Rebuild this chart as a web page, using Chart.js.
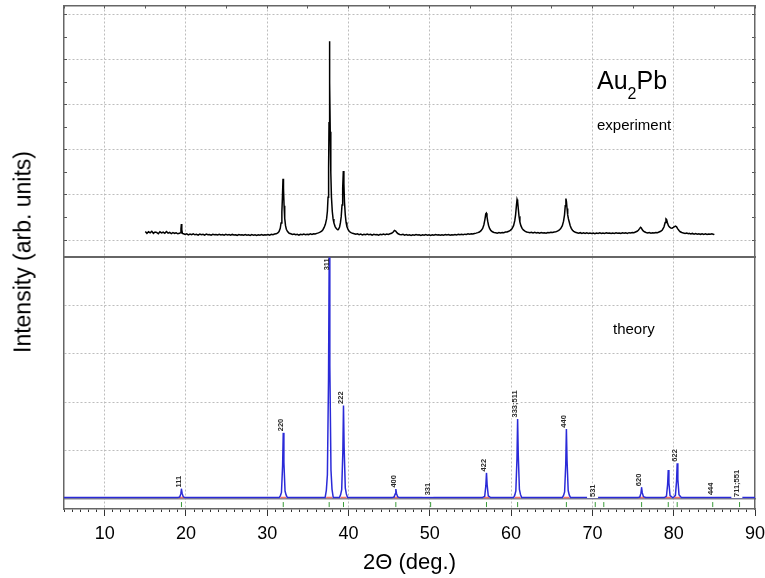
<!DOCTYPE html>
<html>
<head>
<meta charset="utf-8">
<title>Au2Pb powder diffraction</title>
<script src="https://cdn.jsdelivr.net/npm/chart.js@4/dist/chart.umd.min.js"></script>
<style>
  html, body { margin: 0; padding: 0; background: #fff; }
  #wrap { position: relative; width: 765px; height: 578px; overflow: hidden;
          font-family: "Liberation Sans", Arial, sans-serif; color: #000; }
  #plot { position: absolute; left: 0; top: 0; }
  .note { position: absolute; white-space: nowrap; line-height: 1; }
  #ytitle { left: 23px; top: 252px; font-size: 23px; transform: translate(-50%, -50%) rotate(-90deg); }
  #phase { left: 597px; top: 68px; font-size: 25px; }
  #phase span { font-size: 16px; position: relative; top: 10px; }
  #expNote { left: 597px; top: 117px; font-size: 15px; }
  #theoNote { left: 613px; top: 321px; font-size: 15px; }
</style>
</head>
<body>
<div id="wrap">
  <canvas id="plot" width="765" height="578"></canvas>
  <div class="note" id="ytitle">Intensity (arb. units)</div>
  <div class="note" id="phase">Au<span>2</span>Pb</div>
  <div class="note" id="expNote">experiment</div>
  <div class="note" id="theoNote">theory</div>
</div>
<script>
// Measured pattern: [2θ (deg), counts]
const experiment = [
  [15.0,190],[15.2,150],[15.4,185],[15.6,160],[15.8,195],[16.0,150],[16.2,180],[16.4,170],[16.6,140],[16.8,185],
  [17.0,160],[17.2,175],[17.4,150],[17.6,190],[17.8,155],[18.0,170],[18.2,145],[18.4,165],[18.6,150],[18.8,160],
  [19.0,140],[19.2,150],[19.33,165],[19.39,250],[19.44,355],[19.49,235],[19.56,150],[19.7,140],[19.9,125],
  [20.1,140],[20.3,115],[20.5,135],[20.7,120],[20.9,140],[21.1,118],[21.3,130],[21.5,112],[21.7,135],[21.9,120],
  [22.1,128],[22.3,110],[22.5,132],[22.7,118],[22.9,125],[23.1,108],[23.3,130],[23.5,118],[23.7,124],[23.9,112],
  [24.1,128],[24.3,115],[24.5,125],[24.7,110],[24.9,128],[25.1,116],[25.3,122],[25.5,108],[25.7,126],[25.9,114],
  [26.1,120],[26.3,106],[26.5,124],[26.7,112],[26.9,120],[27.1,108],[27.3,125],[27.5,110],[27.7,118],[27.9,104],
  [28.1,122],[28.3,110],[28.5,118],[28.7,105],[28.9,120],[29.1,110],[29.3,124],[29.5,108],[29.7,120],[29.9,112],
  [30.1,125],[30.3,110],[30.5,128],[30.7,118],[30.9,135],[31.1,140],[31.3,160],[31.45,190],[31.6,260],[31.7,380],
  [31.8,620],[31.87,950],[31.94,1360],[32.0,1150],[32.07,760],[32.15,480],[32.25,320],[32.35,240],[32.5,190],
  [32.7,150],[32.9,140],[33.1,125],[33.3,135],[33.5,118],[33.7,130],[33.9,112],[34.1,128],[34.3,118],[34.5,135],
  [34.7,120],[34.9,130],[35.1,122],[35.3,138],[35.5,125],[35.7,140],[35.9,135],[36.1,150],[36.3,160],[36.5,175],
  [36.7,200],[36.85,230],[37.0,280],[37.15,350],[37.3,470],[37.4,640],[37.48,950],[37.55,1600],[37.6,2600],
  [37.65,4410],[37.7,3500],[37.75,2400],[37.82,1500],[37.9,950],[38.0,640],[38.1,470],[38.2,380],[38.35,300],
  [38.5,255],[38.65,230],[38.75,235],[38.9,290],[39.0,380],[39.1,520],[39.2,780],[39.28,1150],[39.36,1530],
  [39.43,1250],[39.5,850],[39.6,560],[39.7,390],[39.8,300],[39.95,230],[40.1,190],[40.3,165],[40.5,150],[40.7,140],
  [40.9,128],[41.1,138],[41.3,120],[41.5,132],[41.7,115],[41.9,130],[42.1,118],[42.3,135],[42.5,120],[42.7,128],
  [42.9,112],[43.1,130],[43.3,118],[43.5,125],[43.7,110],[43.9,128],[44.1,118],[44.3,132],[44.5,120],[44.7,135],
  [44.9,125],[45.1,140],[45.3,150],[45.5,180],[45.65,215],[45.8,200],[45.95,165],[46.1,140],[46.3,125],[46.5,118],
  [46.7,128],[46.9,110],[47.1,122],[47.3,108],[47.5,120],[47.7,105],[47.9,118],[48.1,110],[48.3,125],[48.5,112],
  [48.7,120],[48.9,104],[49.1,118],[49.3,108],[49.5,122],[49.7,110],[49.9,118],[50.1,104],[50.3,120],[50.5,110],
  [50.7,124],[50.9,112],[51.1,118],[51.3,106],[51.5,120],[51.7,110],[51.9,124],[52.1,114],[52.3,122],[52.5,108],
  [52.7,120],[52.9,112],[53.1,125],[53.3,115],[53.5,128],[53.7,118],[53.9,130],[54.1,120],[54.3,132],[54.5,125],
  [54.7,138],[54.9,130],[55.1,140],[55.3,135],[55.5,148],[55.7,155],[55.9,165],[56.1,180],[56.3,210],[56.5,260],
  [56.65,340],[56.78,460],[56.88,580],[56.95,595],[57.03,520],[57.12,420],[57.22,330],[57.35,260],[57.5,215],
  [57.7,185],[57.9,170],[58.1,165],[58.3,155],[58.5,168],[58.7,158],[58.9,170],[59.1,165],[59.3,178],[59.5,180],
  [59.7,195],[59.9,215],[60.1,250],[60.3,320],[60.45,430],[60.55,560],[60.65,760],[60.73,900],[60.8,860],
  [60.88,700],[60.97,530],[61.08,400],[61.2,320],[61.35,260],[61.5,225],[61.7,200],[61.9,180],[62.1,172],[62.3,165],
  [62.5,175],[62.7,160],[62.9,172],[63.1,158],[63.3,168],[63.5,155],[63.7,170],[63.9,160],[64.1,165],[64.3,155],
  [64.5,170],[64.7,162],[64.9,175],[65.1,168],[65.3,180],[65.5,185],[65.7,198],[65.9,220],[66.1,255],[66.3,320],
  [66.45,420],[66.57,560],[66.66,760],[66.74,920],[66.81,850],[66.88,700],[66.96,560],[67.05,470],[67.15,400],
  [67.27,320],[67.4,260],[67.55,220],[67.7,195],[67.9,175],[68.1,165],[68.3,155],[68.5,165],[68.7,150],[68.9,162],
  [69.1,148],[69.3,160],[69.5,145],[69.7,158],[69.9,148],[70.1,155],[70.3,142],[70.5,158],[70.7,148],[70.9,160],
  [71.1,145],[71.3,156],[71.5,148],[71.7,160],[71.9,150],[72.1,158],[72.3,145],[72.5,155],[72.7,148],[72.9,160],
  [73.1,150],[73.3,158],[73.5,145],[73.7,160],[73.9,152],[74.1,162],[74.3,150],[74.5,165],[74.7,158],[74.9,170],
  [75.1,165],[75.3,180],[75.5,195],[75.65,220],[75.8,255],[75.92,285],[76.02,270],[76.12,235],[76.25,205],
  [76.4,185],[76.6,170],[76.8,160],[77.0,168],[77.2,155],[77.4,165],[77.6,158],[77.8,170],[78.0,165],[78.2,180],
  [78.4,195],[78.6,225],[78.8,290],[78.95,390],[79.05,470],[79.12,460],[79.22,390],[79.35,320],[79.5,285],
  [79.65,268],[79.8,265],[79.95,282],[80.1,300],[80.22,312],[80.35,295],[80.5,250],[80.65,212],[80.8,185],
  [81.0,170],[81.2,158],[81.4,148],[81.6,155],[81.8,140],[81.9,150],[82.1,135],[82.3,148],[82.5,132],[82.7,145],
  [82.9,130],[83.1,142],[83.3,128],[83.5,140],[83.7,126],[83.9,138],[84.1,124],[84.3,136],[84.5,128],[84.7,138],
  [84.9,126],[85.0,132]
];

// Calculated pattern (relative intensity, strongest line = 100)
const theoryProfile = [
  [5,0.6],
  [18.95,0.6],[19.1,0.7],[19.23,0.8],[19.37,2.1],[19.45,4.1],[19.53,2.3],[19.67,0.9],[19.8,0.7],[19.95,0.6],
  [31.47,0.6],[31.62,1.4],[31.75,2.7],[31.89,13.7],[31.97,27.4],[32.05,15.1],[32.19,3.3],[32.32,1.7],[32.47,0.6],
  [37.12,0.6],[37.27,3.6],[37.4,10],[37.54,50],[37.62,100],[37.7,55],[37.84,12],[37.97,4],[38.12,0.6],
  [38.88,0.6],[39.03,1.8],[39.16,3.9],[39.3,19.4],[39.38,38.7],[39.46,21.3],[39.6,4.6],[39.73,2.1],[39.88,0.6],
  [45.32,0.6],[45.47,0.7],[45.6,0.8],[45.74,2.1],[45.82,4.1],[45.9,2.3],[46.04,0.9],[46.17,0.7],[46.32,0.6],
  [56.47,0.6],[56.62,0.9],[56.75,1.1],[56.89,5.4],[56.97,10.8],[57.05,5.9],[57.19,1.3],[57.32,1.0],[57.47,0.6],
  [60.3,0.6],[60.45,1.6],[60.58,3.3],[60.72,16.6],[60.8,33.1],[60.88,18.2],[61.02,4.0],[61.15,1.9],[61.3,0.6],
  [66.3,0.6],[66.45,1.5],[66.58,2.9],[66.72,14.5],[66.8,28.9],[66.88,15.9],[67.02,3.5],[67.15,1.7],[67.3,0.6],
  [75.55,0.6],[75.7,0.7],[75.83,0.8],[75.97,2.4],[76.05,4.7],[76.13,2.6],[76.27,1.0],[76.4,0.8],[76.55,0.6],
  [78.83,0.6],[78.98,0.9],[79.11,1.2],[79.25,6.0],[79.33,12.0],[79.41,6.6],[79.55,1.4],[79.68,1.1],[79.83,0.6],
  [79.93,0.6],[80.08,1.0],[80.21,1.5],[80.35,7.4],[80.43,14.8],[80.51,8.1],[80.65,1.8],[80.78,1.2],[80.93,0.6],
  [90,0.6]
];

// Reflection list of the cubic Laves phase
const reflAngle     = [19.45, 31.97, 37.62, 39.38, 45.82, 50.1, 56.97, 60.8, 66.8, 70.35, 71.4, 76.05, 79.33, 80.43, 84.8, 88.1];
const reflHkl       = ['111','220','311','222','400','331','422','333;511','440','531','','620','','622','444','711;551'];
const reflIntensity = [4.1, 27.4, 100, 38.7, 4.1, 0.9, 10.8, 33.1, 28.9, 0.2, 0.2, 4.7, 12.0, 14.8, 1.0, 0.2];

// Axis ticks
const angleLabels = [10, 20, 30, 40, 50, 60, 70, 80, 90];
const expTicks    = [0, 500, 1000, 1500, 2000, 2500, 3000, 3500, 4000, 4500, 5000];
const theoryTicks = [0, 20, 40, 60, 80];

const FRAME = '#666666';
const GRID = '#bdbdbd';
const CLEAR = 'rgba(0,0,0,0)';
const BASE = 0.6;          // calculated-pattern background level
const MARK_LEVEL = -2.3;   // row of reflection markers under the baseline

const degreeTicks = [];
for (let d = 5; d <= 90; d++) degreeTicks.push(d);

Chart.defaults.font.family = '"Liberation Sans", Arial, sans-serif';
Chart.defaults.color = '#000';

// hkl indices written vertically above each calculated line
const hklLabels = {
  id: 'hklLabels',
  afterDatasetsDraw(chart) {
    const { ctx, scales } = chart;
    const x = scales.x, y = scales.yTh;
    ctx.save();
    ctx.font = 'bold 7.5px "Liberation Sans", Arial, sans-serif';
    ctx.textBaseline = 'middle';
    ctx.textAlign = 'left';
    reflHkl.forEach((txt, i) => {
      if (!txt) return;
      const px = x.getPixelForValue(reflAngle[i]) - 2.7;
      let base = y.getPixelForValue(reflIntensity[i]) - 1.5;
      const w = ctx.measureText(txt).width;
      let masked = true;
      if (base - w < y.top + 1) { base = y.top + 1 + w; masked = false; }
      ctx.save();
      ctx.translate(px, base);
      ctx.rotate(-Math.PI / 2);
      if (masked) { ctx.fillStyle = '#fff'; ctx.fillRect(-1, -5.5, w + 2, 11); }
      ctx.fillStyle = '#2a2a2a';
      ctx.fillText(txt, 0, 0.5);
      ctx.restore();
    });
    ctx.restore();
  }
};

const hiddenTicks = { display: false };

new Chart(document.getElementById('plot'), {
  type: 'line',
  data: {
    datasets: [
      {
        label: 'theory',
        data: theoryProfile,
        xAxisID: 'x', yAxisID: 'yTh',
        borderColor: '#2a2ad8', borderWidth: 1.5,
        pointRadius: 0, tension: 0, order: 1
      },
      {
        label: 'reflections',
        data: reflAngle.map(a => ({ x: a, y: MARK_LEVEL })),
        xAxisID: 'x', yAxisID: 'yTh',
        showLine: false, pointStyle: 'line', pointRotation: 90, pointRadius: 2.5,
        pointBorderColor: '#3a9a3a', pointBorderWidth: 1, order: 2
      },
      {
        label: 'peak base',
        data: reflAngle.map((a, i) => ({ x: a, y: reflIntensity[i] > 2 ? BASE : null })),
        xAxisID: 'x', yAxisID: 'yTh',
        showLine: false, pointStyle: 'line', pointRadius: 3,
        pointBorderColor: '#f07070', pointBorderWidth: 1.5, order: 3
      },
      {
        label: 'experiment',
        data: experiment,
        xAxisID: 'x', yAxisID: 'yExp',
        borderColor: '#000', borderWidth: 1.5,
        pointRadius: 0, tension: 0, order: 0
      }
    ]
  },
  options: {
    responsive: false,
    animation: false,
    events: [],
    layout: { padding: 0 },
    plugins: { legend: { display: false }, tooltip: { enabled: false } },
    scales: {
      x: {
        type: 'linear', position: 'bottom', min: 5, max: 90,
        afterBuildTicks: s => { s.ticks = degreeTicks.map(v => ({ value: v })); },
        afterFit: s => { s.height = 69; s.paddingLeft = 0; s.paddingRight = 0; },
        ticks: {
          autoSkip: false, maxRotation: 0, padding: 7,
          font: { size: 18 }, color: '#000',
          callback: v => (angleLabels.includes(v) ? String(v) : '')
        },
        grid: {
          color: c => (c.tick && c.tick.value % 10 === 0 && c.tick.value > 5 && c.tick.value < 90) ? GRID : CLEAR,
          lineWidth: 1,
          tickLength: 7, tickColor: '#333', tickWidth: 1,
          tickBorderDash: c => (c.tick && c.tick.value % 10 === 0) ? [] : [2.5, 30]
        },
        border: { display: true, color: FRAME, width: 1.5, dash: [2, 2] },
        title: { display: true, text: '2Θ (deg.)', font: { size: 22 }, color: '#000', padding: { top: 0, bottom: 2 } }
      },
      xTop: {
        type: 'linear', position: 'top', min: 5, max: 90,
        afterFit: s => { s.height = 5; },
        ticks: { display: false, stepSize: 5 },
        grid: { drawOnChartArea: false, tickLength: -3, tickColor: '#555' },
        border: { display: true, color: FRAME, width: 1.5 }
      },
      xMid: {
        type: 'linear', position: { yTh: 100 }, min: 5, max: 90,
        ticks: hiddenTicks,
        grid: { display: false },
        border: { display: true, color: FRAME, width: 2 }
      },
      xZero: {
        type: 'linear', position: { yTh: 0 }, min: 5, max: 90,
        ticks: hiddenTicks,
        grid: { display: false },
        border: { display: true, color: '#8a8a8a', width: 1.5 }
      },
      yTh: {
        type: 'linear', position: 'left', stack: 'left', stackWeight: 1, weight: 0,
        min: -4.14, max: 100,
        afterBuildTicks: s => { s.ticks = theoryTicks.map(v => ({ value: v })); },
        afterFit: s => { s.width = 64; },
        ticks: hiddenTicks,
        grid: { color: c => (c.tick && c.tick.value > 0) ? GRID : CLEAR, drawTicks: false },
        border: { display: true, color: FRAME, width: 1.5, dash: [2, 2] }
      },
      yExp: {
        type: 'linear', position: 'left', stack: 'left', stackWeight: 1, weight: 1,
        min: -380, max: 5200,
        afterBuildTicks: s => { s.ticks = expTicks.map(v => ({ value: v })); },
        afterFit: s => { s.width = 64; },
        ticks: hiddenTicks,
        grid: {
          color: c => (c.tick && c.tick.value % 1000 === 0) ? GRID : CLEAR,
          tickLength: -3, tickColor: '#555'
        },
        border: { display: true, color: FRAME, width: 1.5, dash: [2, 2] }
      },
      yExpR: {
        type: 'linear', position: 'right', stack: 'right', stackWeight: 1, weight: 0,
        min: -380, max: 5200,
        afterBuildTicks: s => { s.ticks = expTicks.map(v => ({ value: v })); },
        afterFit: s => { s.width = 10; },
        ticks: hiddenTicks,
        grid: { drawOnChartArea: false, tickLength: -3, tickColor: '#555' },
        border: { display: true, color: FRAME, width: 1.5 }
      },
      yThR: {
        type: 'linear', position: 'right', stack: 'right', stackWeight: 1, weight: 1,
        min: -4.14, max: 100,
        afterFit: s => { s.width = 10; },
        ticks: hiddenTicks,
        grid: { display: false },
        border: { display: true, color: FRAME, width: 1.5 }
      }
    }
  },
  plugins: [hklLabels]
});
</script>
</body>
</html>
